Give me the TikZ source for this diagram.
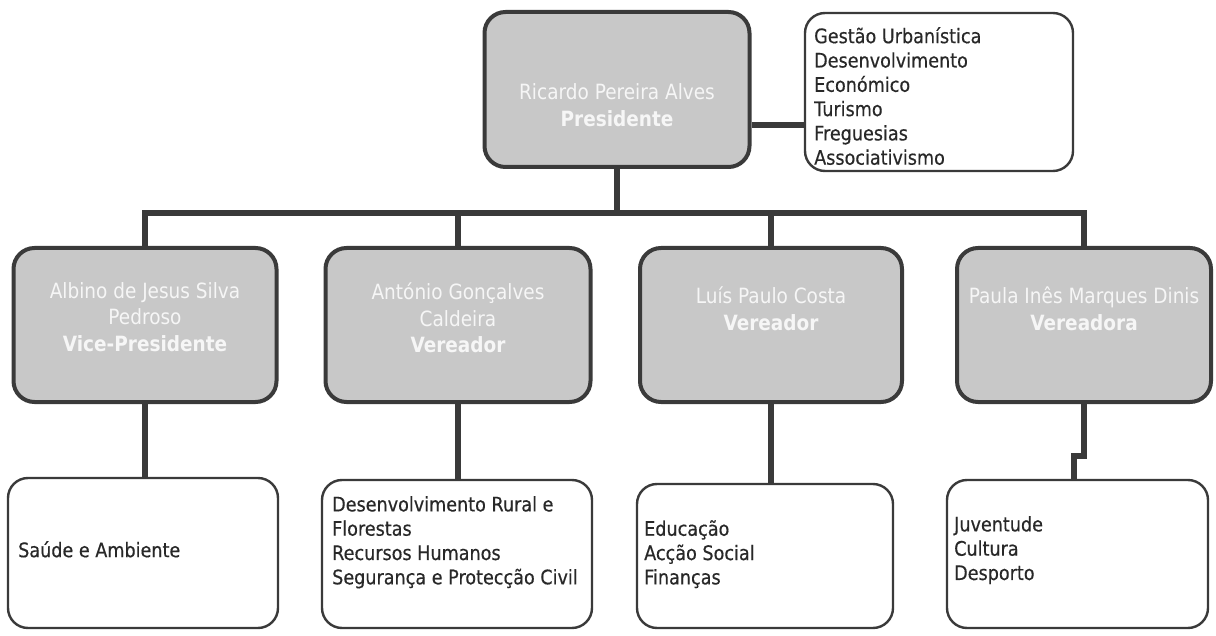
\documentclass[tikz,border=0pt]{standalone}
\usepackage{fontspec}
\setmainfont{DejaVu Sans}[FakeStretch=0.88]
\newfontfamily\boxfont{DejaVu Sans}[FakeStretch=0.88, FakeBold=0.4]
\definecolor{boxgray}{RGB}{200,200,200}
\definecolor{boxline}{RGB}{58,58,58}
\definecolor{textdark}{RGB}{40,40,40}
\definecolor{ghost}{RGB}{246,246,246}
\begin{document}
\begin{tikzpicture}[x=1pt,y=-1pt,
  graybox/.style={draw=boxline, fill=boxgray, line width=4pt, rounded corners=21pt, inner sep=0pt},
  graytext/.style={text=ghost, align=center, font=\fontsize{21}{26.5}\selectfont, inner sep=0pt},
  whitebox/.style={draw=boxline, fill=white, line width=2.4pt, rounded corners=20pt, inner sep=0pt},
  whitetext/.style={text=textdark, align=left, anchor=north west, font=\boxfont\fontsize{20}{24.3}\selectfont, inner sep=0pt},
  conn/.style={draw=boxline, line width=5.5pt}]
\useasboundingbox (0,0) rectangle (1216,636);
% president
\node[graybox, minimum width=265pt, minimum height=155pt] (pres) at (617,89.5) {};
\node[graytext] (presT) at (617,105) {Ricardo Pereira Alves\\\textbf{Presidente}};
% right box
\node[whitebox, minimum width=268pt, minimum height=158pt] (comp) at (939,92) {};
\node[whitetext] (compT) at (814,27) {Gestão Urbanística\\Desenvolvimento\\Económico\\Turismo\\Freguesias\\Associativismo};
% gray row
\node[graybox, minimum width=263pt, minimum height=154pt] (b1) at (145,325) {};
\node[graybox, minimum width=265pt, minimum height=154pt] (b2) at (458,325) {};
\node[graybox, minimum width=262pt, minimum height=154pt] (b3) at (771,325) {};
\node[graybox, minimum width=254pt, minimum height=154pt] (b4) at (1084,325) {};
\node[graytext] (t1) at (145,317) {Albino de Jesus Silva\\Pedroso\\\textbf{Vice-Presidente}};
\node[graytext] (t2) at (458,318) {António Gonçalves\\Caldeira\\\textbf{Vereador}};
\node[graytext] (t3) at (771,309) {Luís Paulo Costa\\\textbf{Vereador}};
\node[graytext] (t4) at (1084,309) {Paula Inês Marques Dinis\\\textbf{Vereadora}};
% white row
\node[whitebox, minimum width=270pt, minimum height=150pt] (w1) at (143,553) {};
\node[whitebox, minimum width=270pt, minimum height=148pt] (w2) at (457,554) {};
\node[whitebox, minimum width=256pt, minimum height=144pt] (w3) at (765,556) {};
\node[whitebox, minimum width=261pt, minimum height=148pt] (w4) at (1077.5,554) {};
\node[whitetext] (s1) at (18,541) {Saúde e Ambiente};
\node[whitetext] (s2) at (332,496) {Desenvolvimento Rural e\\Florestas\\Recursos Humanos\\Segurança e Protecção Civil};
\node[whitetext] (s3) at (644,520) {Educação\\Acção Social\\Finanças};
\node[whitetext] (s4) at (954,516) {Juventude\\Cultura\\Desporto};
% connectors
\coordinate (bus) at (617,213);
\coordinate (jog) at (1074,456);
\draw[conn] (pres.east |- 0,125) -- (comp.west |- 0,125);
\draw[conn] (pres.south) -- (bus);
\draw[conn] (b1.north) |- (bus);
\draw[conn] (b4.north) |- (bus);
\draw[conn] (b2.north) -- (b2.north |- bus);
\draw[conn] (b3.north) -- (b3.north |- bus);
\draw[conn] (b1.south) -- (b1.south |- w1.north);
\draw[conn] (b2.south) -- (b2.south |- w2.north);
\draw[conn] (b3.south) -- (b3.south |- w3.north);
\draw[conn] (b4.south) |- (jog) -- (jog |- w4.north);
\end{tikzpicture}
\end{document}
